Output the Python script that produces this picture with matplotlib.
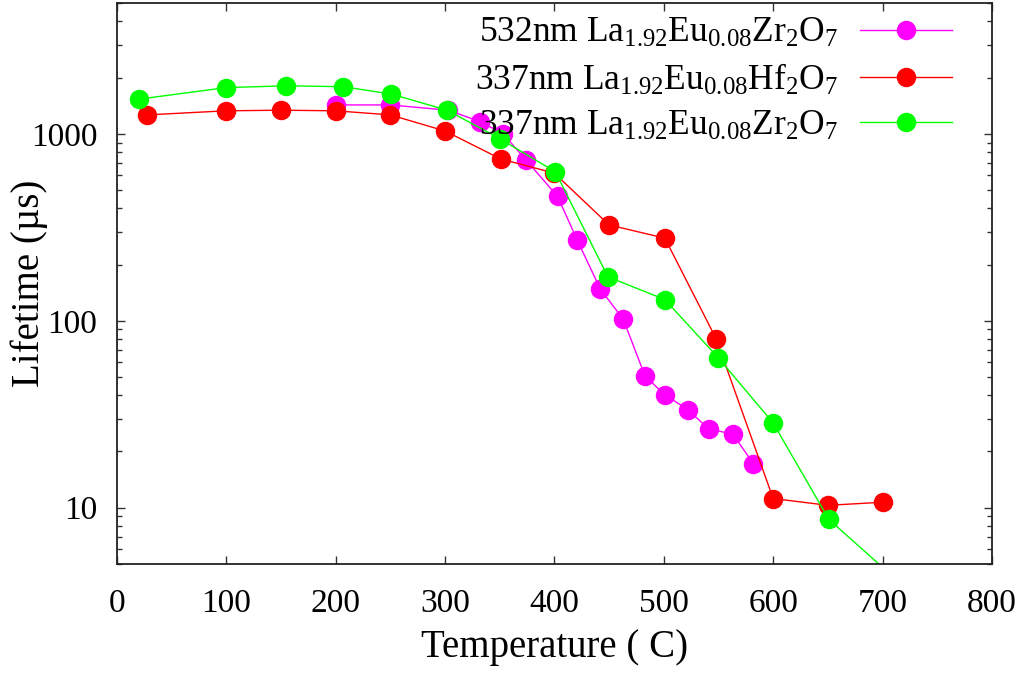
import matplotlib
matplotlib.use("Agg")
import matplotlib.pyplot as plt
from matplotlib.ticker import LogLocator, NullFormatter, FixedLocator, FuncFormatter

# 532nm La1.92Eu0.08Zr2O7
t_532_zr = [200, 250, 303, 332, 353, 374, 403, 421, 442, 463, 483, 501, 522, 541, 563, 582]
tau_532_zr = [1430, 1430, 1340, 1165, 1005, 727, 463, 270, 148, 102, 50.5, 40.2, 33.5, 26.4, 24.8, 17.2]

# 337nm La1.92Eu0.08Hf2O7
t_337_hf = [28, 100, 150, 200, 250, 300, 351, 400, 450, 501, 548, 600, 650, 700]
tau_337_hf = [1265, 1330, 1340, 1330, 1265, 1038, 735, 617, 326, 277, 80, 11.2, 10.3, 10.7]

# 337nm La1.92Eu0.08Zr2O7
t_337_zr = [20, 100, 155, 207, 251, 302, 350, 401, 449, 501, 550, 600, 651, 700]
tau_337_zr = [1535, 1770, 1810, 1790, 1635, 1340, 945, 627, 172, 130, 63.3, 28.4, 8.65, 4.8]

labels = [
    r"532nm La$_{1.92}$Eu$_{0.08}$Zr$_2$O$_7$",
    r"337nm La$_{1.92}$Eu$_{0.08}$Hf$_2$O$_7$",
    r"337nm La$_{1.92}$Eu$_{0.08}$Zr$_2$O$_7$",
]
colors = ["#ff00ff", "#ff0000", "#00ff00"]
x_ticks = [0, 100, 200, 300, 400, 500, 600, 700, 800]
y_min, y_max = 5, 5000

plt.rcParams["font.family"] = ["Liberation Serif", "DejaVu Serif"]
plt.rcParams["mathtext.fontset"] = "custom"
plt.rcParams["mathtext.rm"] = "Liberation Serif"
plt.rcParams["mathtext.it"] = "Liberation Serif"
plt.rcParams["font.size"] = 24

fig = plt.figure(figsize=(10.29, 6.79), dpi=100)
ax = fig.add_axes([0.1134, 0.1694, 0.8506, 0.8257])

series = [(t_532_zr, tau_532_zr), (t_337_hf, tau_337_hf), (t_337_zr, tau_337_zr)]
for (xs, ys), lab, col in zip(series, labels, colors):
    # gnuplot leaves out points below the y range but keeps the line
    shown = [i for i, v in enumerate(ys) if v >= y_min]
    ax.plot(xs, ys, color=col, lw=1.0, marker="o", ms=13, mec=col, mfc=col,
            markevery=shown, label=lab)

ax.set_yscale("log")
ax.set_xlim(0, 800)
ax.set_ylim(y_min, y_max)
ax.xaxis.set_major_locator(FixedLocator(x_ticks))
ax.yaxis.set_major_locator(LogLocator(base=10, numticks=10))
ax.yaxis.set_minor_locator(LogLocator(base=10, subs=range(2, 10), numticks=20))
ax.yaxis.set_minor_formatter(NullFormatter())
ax.yaxis.set_major_formatter(FuncFormatter(lambda v, p: f"{v:g}"))

ax.tick_params(which="both", direction="in", top=True, right=True, width=1.0, color="#333333")
ax.tick_params(which="major", length=6)
ax.tick_params(which="minor", length=3.5)
ax.tick_params(axis="x", which="major", pad=18)
ax.tick_params(axis="y", which="major", pad=14)
for s in ax.spines.values():
    s.set_linewidth(1.3)
    s.set_color("#222222")

ax.set_xlabel("Temperature ( C)", fontsize=28, labelpad=7)
ax.set_ylabel("Lifetime (\u00b5s)", fontsize=28)
ax.yaxis.set_label_coords(-0.0786, 0.5)

ax.legend(loc="upper right", frameon=False, markerfirst=False, numpoints=1,
          fontsize=25.5, handlelength=2.6, handletextpad=0.62, labelspacing=0.34,
          borderaxespad=0.2, bbox_to_anchor=(0.979, 1.013))

fig.savefig("out.png", dpi=100)
